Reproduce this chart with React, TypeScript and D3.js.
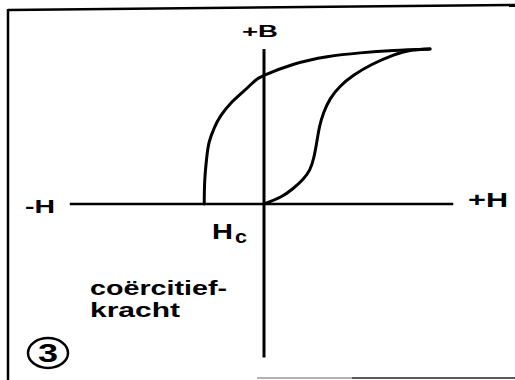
import React from "react";
import * as d3 from "d3";

// Hysteresis loop (normalised H, B)
const hUpper = [-0.36, -0.357, -0.345, -0.33, -0.3, -0.26, -0.2, -0.13, -0.06, 0, 0.175, 0.38, 0.58, 0.78, 1.0];
const bUpper = [0, 0.15, 0.3, 0.4, 0.49, 0.57, 0.65, 0.72, 0.79, 0.83, 0.9, 0.95, 0.975, 0.99, 1.0];
const hLower = [0, 0.1, 0.175, 0.235, 0.275, 0.3, 0.318, 0.335, 0.36, 0.4, 0.46, 0.54, 0.65, 0.78, 0.88, 1.0];
const bLower = [0, 0.045, 0.1, 0.16, 0.22, 0.3, 0.4, 0.5, 0.59, 0.68, 0.76, 0.83, 0.9, 0.96, 0.99, 1.0];
const axisH = [-1.17, 1.14];
const axisB = [-0.99, 1.0];

const W = 515;
const H = 380;
const FONT = "'Liberation Sans', Arial, Helvetica, sans-serif";

export default function App() {
  const x = d3.scaleLinear().domain([-1, 1]).range([98, 430]);
  const y = d3.scaleLinear().domain([-1, 1]).range([359, 49]);
  const line = d3
    .line<[number, number]>()
    .x((d) => x(d[0]))
    .y((d) => y(d[1]))
    .curve(d3.curveNatural);
  const upper: [number, number][] = hUpper.map((h, i) => [h, bUpper[i]]);
  const lower: [number, number][] = hLower.map((h, i) => [h, bLower[i]]);

  const t = (
    s: string,
    px: number,
    py: number,
    size: number,
    len: number
  ) => (
    <text
      x={px}
      y={py}
      fontSize={size}
      fontFamily={FONT}
      fontWeight="bold"
      textLength={len}
      lengthAdjust="spacingAndGlyphs"
      fill="#000"
    >
      {s}
    </text>
  );

  return (
    <svg
      width={W}
      height={H}
      style={{ position: "fixed", left: 0, top: 0, background: "#fff" }}
    >
      {/* frame */}
      <line x1={8} y1={10} x2={515} y2={5} stroke="#000" strokeWidth={2.5} />
      <line x1={8} y1={9} x2={8} y2={380} stroke="#000" strokeWidth={2.5} />
      <line x1={257} y1={378} x2={352} y2={378} stroke="#999" strokeWidth={1.5} />
      <line x1={352} y1={378} x2={515} y2={378} stroke="#222" strokeWidth={1.5} />

      {/* axes */}
      <line
        x1={x(axisH[0])}
        x2={x(axisH[1])}
        y1={y(0)}
        y2={y(0)}
        stroke="#000"
        strokeWidth={2.5}
      />
      <line
        x1={x(0)}
        x2={x(0)}
        y1={y(axisB[1])}
        y2={y(axisB[0])}
        stroke="#000"
        strokeWidth={3}
      />

      {/* loop */}
      <path d={line(upper) || ""} fill="none" stroke="#000" strokeWidth={3} strokeLinecap="round" />
      <path d={line(lower) || ""} fill="none" stroke="#000" strokeWidth={3} strokeLinecap="round" />

      {/* labels */}
      {t("+B", 242, 37, 17, 36)}
      {t("-H", 25, 213, 18, 30)}
      {t("+H", 468, 207, 21, 40)}
      {t("H", 212, 239, 22, 21)}
      {t("c", 235, 243, 18, 12)}
      {t("coërcitief-", 90, 295, 20, 137)}
      {t("kracht", 90, 317, 20, 90)}

      <ellipse cx={48} cy={353} rx={20} ry={15} fill="none" stroke="#000" strokeWidth={2.5} />
      {t("3", 38, 362, 25, 20)}
    </svg>
  );
}
